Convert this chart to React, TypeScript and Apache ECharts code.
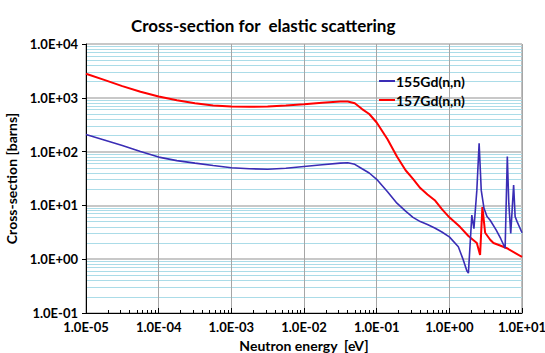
import React, { useEffect, useRef } from "react";
import * as echarts from "echarts";

const titleText = "Cross-section for  elastic scattering";
const xAxisName = "Neutron energy  [eV]";
const yAxisName = "Cross-section [barns]";
const seriesNames = ["155Gd(n,n)", "157Gd(n,n)"];

// 155Gd(n,n): energy [eV] and cross-section [barns]
const energy155 = [
  1e-5, 1.78e-5, 3.16e-5, 5.62e-5, 1e-4, 1.78e-4, 3.16e-4, 5.62e-4, 1e-3, 1.78e-3, 3.16e-3, 5.62e-3,
  1e-2, 1.78e-2, 3.16e-2, 0.04, 0.05, 0.063, 0.079, 0.1, 0.141, 0.19, 0.25, 0.316, 0.398, 0.5, 0.63, 0.79,
  1.0, 1.33, 1.56, 1.75, 1.83, 2.04, 2.18, 2.39, 2.57, 2.75, 3.0, 3.3, 3.65, 4.4, 5.1, 5.86, 6.05, 6.28,
  6.58, 7.0, 7.38, 7.67, 8.04, 8.56, 10,
];
const sigma155 = [
  207, 165, 130, 100, 79, 68, 61, 55, 50, 48, 47, 49,
  53, 57, 61, 62, 58, 48, 40, 30.6, 18, 11, 7.8, 6.0, 5.0, 4.4, 3.8, 3.2,
  2.6, 1.7, 0.96, 0.6, 0.55, 6.6, 3.7, 19, 143, 19, 8.8, 6.2, 5.3, 3.5, 2.4, 1.6, 10, 81,
  11, 3.0, 10, 24, 6.2, 5.0, 3.1,
];

// 157Gd(n,n): energy [eV] and cross-section [barns]
const energy157 = [
  1e-5, 1.78e-5, 3.16e-5, 5.62e-5, 1e-4, 1.78e-4, 3.16e-4, 5.62e-4, 1e-3, 1.78e-3, 3.16e-3, 5.62e-3,
  1e-2, 1.78e-2, 3.16e-2, 0.04, 0.05, 0.063, 0.079, 0.1, 0.141, 0.19, 0.25, 0.316, 0.398, 0.5, 0.63, 0.79,
  1.0, 1.4, 1.83, 2.39, 2.65, 2.85, 3.11, 3.65, 4.05, 5.0, 6.2, 10,
];
const sigma157 = [
  2800, 2150, 1650, 1300, 1060, 900, 790, 720, 690, 680, 690, 720,
  760, 810, 850, 853, 790, 617, 500, 347, 170, 81, 45, 31, 21, 16, 12.5, 8.5,
  6.0, 4.0, 2.7, 2.0, 1.2, 9.3, 3.1, 2.3, 2.0, 1.8, 1.6, 1.1,
];

const xMin = 1e-5;
const xMax = 10;
const yMin = 0.1;
const yMax = 10000;

const fmtExp = (v: number) => {
  const e = Math.round(Math.log10(v));
  return "1.0E" + (e < 0 ? "-" : "+") + String(Math.abs(e)).padStart(2, "0");
};

const FONT = "Lato";

export default function App() {
  const ref = useRef<HTMLDivElement>(null);
  useEffect(() => {
    if (!ref.current) return;
    const chart = echarts.init(ref.current, undefined, { renderer: "svg" });
    const pairs = (xs: number[], ys: number[]) => xs.map((x, i) => [x, ys[i]]);
    chart.setOption({
      animation: false,
      backgroundColor: "#ffffff",
      title: {
        text: titleText,
        left: 126,
        top: 12,
        textStyle: { fontFamily: FONT, fontWeight: "bold", fontSize: 17, color: "#000" },
      },
      legend: {
        data: seriesNames,
        orient: "vertical",
        left: 374,
        top: 69,
        itemGap: 5,
        itemWidth: 16,
        itemHeight: 2,
        icon: "rect",
        textStyle: { fontFamily: FONT, fontWeight: "bold", fontSize: 14, color: "#000", padding: [0, 0, 0, -4] },
      },
      grid: {
        left: 86,
        right: 23,
        top: 44,
        bottom: 40,
        containLabel: false,
        outerBoundsMode: "none",
        show: true,
        borderColor: "#808080",
        borderWidth: 1,
      },
      xAxis: {
        type: "log",
        logBase: 10,
        min: xMin,
        max: xMax,
        name: xAxisName,
        nameLocation: "middle",
        nameGap: 25,
        nameTextStyle: { fontFamily: FONT, fontWeight: "bold", fontSize: 14, color: "#000" },
        axisLine: { lineStyle: { color: "#000", width: 1 } },
        axisTick: { show: true, inside: true, length: 5, lineStyle: { color: "#000" } },
        minorTick: { show: true, splitNumber: 9, length: 3, lineStyle: { color: "#000" } },
        axisLabel: {
          formatter: fmtExp,
          margin: 7,
          fontFamily: FONT,
          fontWeight: "bold",
          fontSize: 13,
          color: "#000",
        },
        splitLine: { show: true, lineStyle: { color: "#a6a6a6", width: 1 } },
        minorSplitLine: { show: false },
      },
      yAxis: {
        type: "log",
        logBase: 10,
        min: yMin,
        max: yMax,
        name: yAxisName,
        nameLocation: "middle",
        nameGap: 62,
        nameTextStyle: { fontFamily: FONT, fontWeight: "bold", fontSize: 14, color: "#000" },
        axisLine: { show: true, lineStyle: { color: "#000", width: 1 } },
        axisTick: { show: true, inside: false, length: 4, lineStyle: { color: "#000" } },
        minorTick: { show: false, splitNumber: 9 },
        axisLabel: {
          formatter: fmtExp,
          margin: 8,
          fontFamily: FONT,
          fontWeight: "bold",
          fontSize: 13,
          color: "#000",
        },
        splitLine: { show: true, lineStyle: { color: "#c8c8c8", width: 2 } },
        minorSplitLine: { show: true, lineStyle: { color: "#abdce8", width: 1 } },
      },
      series: [
        {
          name: seriesNames[0],
          type: "line",
          data: pairs(energy155, sigma155),
          showSymbol: false,
          symbol: "none",
          lineStyle: { color: "#3a2db5", width: 1.6 },
          itemStyle: { color: "#3a2db5" },
          z: 3,
        },
        {
          name: seriesNames[1],
          type: "line",
          data: pairs(energy157, sigma157),
          showSymbol: false,
          symbol: "none",
          lineStyle: { color: "#ff0000", width: 2 },
          itemStyle: { color: "#ff0000" },
          z: 2,
        },
      ],
    });
    return () => chart.dispose();
  }, []);
  return (
    <div
      ref={ref}
      style={{ position: "absolute", left: 0, top: 0, width: 545, height: 353 }}
    />
  );
}
